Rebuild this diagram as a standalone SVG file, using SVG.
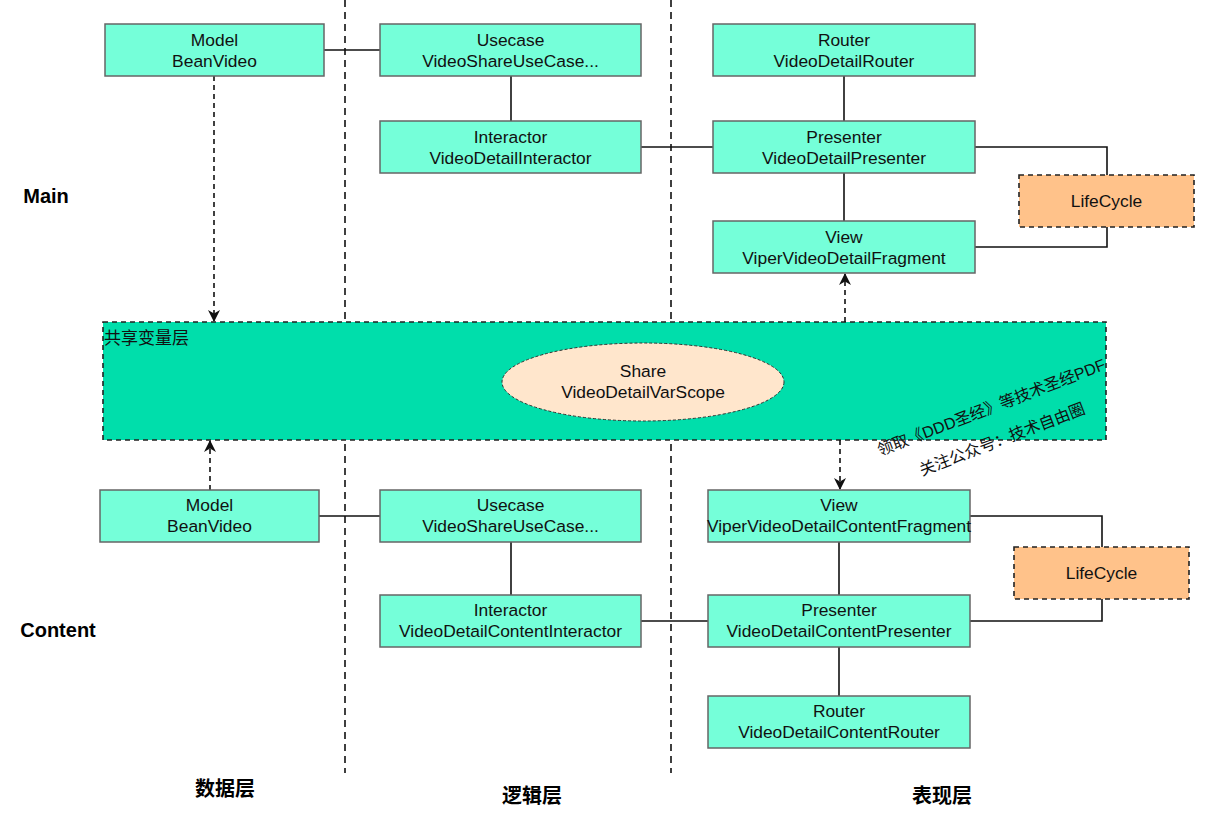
<svg xmlns="http://www.w3.org/2000/svg" width="1205" height="818" viewBox="0 0 1205 818">
<style>
.n{fill:#75FFD9;stroke:#666;stroke-width:1.5}
.lc{fill:#FFC28A;stroke:#222;stroke-width:1.6;stroke-dasharray:5 4}
.t{font-family:"Liberation Sans",Arial,sans-serif;font-size:17.4px;fill:#111;text-anchor:middle}
.b{font-family:"Liberation Sans","Noto Sans CJK SC",sans-serif;font-size:20px;font-weight:bold;fill:#000;text-anchor:middle}
.c{fill:none;stroke:#111;stroke-width:1.6}
.d{fill:none;stroke:#111;stroke-width:1.6;stroke-dasharray:5 4}
.sep{fill:none;stroke:#111;stroke-width:1.6;stroke-dasharray:7 5}
.wm{font-family:"Liberation Sans","Noto Sans CJK SC",sans-serif;font-size:16px;fill:#111}
</style>
<defs>
<marker id="ar" viewBox="0 0 12 12" refX="11" refY="6" markerWidth="12" markerHeight="12" markerUnits="userSpaceOnUse" orient="auto">
<path d="M0,0 L12,6 L0,12 L3.5,6 Z" fill="#111"/>
</marker>
</defs>
<rect width="1205" height="818" fill="#fff"/>
<g id="separators">
<line class="sep" x1="345" y1="0" x2="345" y2="773"/>
<line class="sep" x1="671" y1="0" x2="671" y2="773"/>
</g>
<g id="shared-layer">
<rect x="103" y="322" width="1003" height="118" fill="#00DEAB" stroke="#222" stroke-width="1.6" stroke-dasharray="5 4"/>
<text x="104" y="344" font-family="'Noto Sans CJK SC',sans-serif" font-size="17" fill="#111">共享变量层</text>
</g>
<g id="share">
<ellipse cx="643" cy="382" rx="141" ry="39" fill="#FFE6CC" stroke="#333" stroke-width="1" stroke-dasharray="3 2"/>
<text class="t" x="643" y="377">Share</text>
<text class="t" x="643" y="398">VideoDetailVarScope</text>
</g>
<g id="connectors">
<line class="c" x1="324" y1="50" x2="380" y2="50"/>
<line class="c" x1="511" y1="76" x2="511" y2="121"/>
<line class="c" x1="641" y1="147" x2="713" y2="147"/>
<line class="c" x1="844" y1="76" x2="844" y2="121"/>
<line class="c" x1="844" y1="173" x2="844" y2="221"/>
<polyline class="c" points="975,147 1107,147 1107,175"/>
<polyline class="c" points="975,247 1107,247 1107,227"/>
<line class="d" x1="214" y1="76" x2="214" y2="321" marker-end="url(#ar)"/>
<line class="d" x1="845" y1="322" x2="845" y2="274" marker-end="url(#ar)"/>
<line class="d" x1="840" y1="440" x2="840" y2="489" marker-end="url(#ar)"/>
<line class="d" x1="210" y1="490" x2="210" y2="441" marker-end="url(#ar)"/>
<line class="c" x1="319" y1="516" x2="380" y2="516"/>
<line class="c" x1="511" y1="542" x2="511" y2="595"/>
<line class="c" x1="641" y1="621" x2="708" y2="621"/>
<line class="c" x1="839" y1="542" x2="839" y2="595"/>
<line class="c" x1="839" y1="647" x2="839" y2="696"/>
<polyline class="c" points="970,516 1102,516 1102,547"/>
<polyline class="c" points="970,621 1102,621 1102,599"/>
</g>
<g id="main-model"><rect class="n" x="105" y="24" width="219" height="52"/><text class="t" x="214.5" y="46">Model</text><text class="t" x="214.5" y="67">BeanVideo</text></g>
<g id="main-usecase"><rect class="n" x="380" y="24" width="261" height="52"/><text class="t" x="510.5" y="46">Usecase</text><text class="t" x="510.5" y="67">VideoShareUseCase...</text></g>
<g id="main-interactor"><rect class="n" x="380" y="121" width="261" height="52"/><text class="t" x="510.5" y="143">Interactor</text><text class="t" x="510.5" y="164">VideoDetailInteractor</text></g>
<g id="main-router"><rect class="n" x="713" y="24" width="262" height="52"/><text class="t" x="844" y="46">Router</text><text class="t" x="844" y="67">VideoDetailRouter</text></g>
<g id="main-presenter"><rect class="n" x="713" y="121" width="262" height="52"/><text class="t" x="844" y="143">Presenter</text><text class="t" x="844" y="164">VideoDetailPresenter</text></g>
<g id="main-view"><rect class="n" x="713" y="221" width="262" height="52"/><text class="t" x="844" y="243">View</text><text class="t" x="844" y="264">ViperVideoDetailFragment</text></g>
<g id="main-lifecycle"><rect class="lc" x="1019" y="175" width="175" height="52"/><text class="t" x="1106.5" y="207">LifeCycle</text></g>
<g id="content-model"><rect class="n" x="100" y="490" width="219" height="52"/><text class="t" x="209.5" y="511">Model</text><text class="t" x="209.5" y="532">BeanVideo</text></g>
<g id="content-usecase"><rect class="n" x="380" y="490" width="261" height="52"/><text class="t" x="510.5" y="511">Usecase</text><text class="t" x="510.5" y="532">VideoShareUseCase...</text></g>
<g id="content-interactor"><rect class="n" x="380" y="595" width="261" height="52"/><text class="t" x="510.5" y="616">Interactor</text><text class="t" x="510.5" y="637">VideoDetailContentInteractor</text></g>
<g id="content-view"><rect class="n" x="708" y="490" width="262" height="52"/><text class="t" x="839" y="511">View</text><text class="t" x="839" y="532">ViperVideoDetailContentFragment</text></g>
<g id="content-presenter"><rect class="n" x="708" y="595" width="262" height="52"/><text class="t" x="839" y="616">Presenter</text><text class="t" x="839" y="637">VideoDetailContentPresenter</text></g>
<g id="content-router"><rect class="n" x="708" y="696" width="262" height="52"/><text class="t" x="839" y="717">Router</text><text class="t" x="839" y="738">VideoDetailContentRouter</text></g>
<g id="content-lifecycle"><rect class="lc" x="1014" y="547" width="175" height="52"/><text class="t" x="1101.5" y="579">LifeCycle</text></g>
<g id="labels">
<text class="b" x="46" y="203">Main</text>
<text class="b" x="58" y="637">Content</text>
<text class="b" x="225" y="796">数据层</text>
<text class="b" x="532" y="803">逻辑层</text>
<text class="b" x="942" y="803">表现层</text>
</g>
<g id="watermark">
<text class="wm" transform="translate(880,456) rotate(-21)">领取《DDD圣经》等技术圣经PDF</text>
<text class="wm" transform="translate(922,476) rotate(-21)">关注公众号：技术自由圈</text>
</g>
</svg>
